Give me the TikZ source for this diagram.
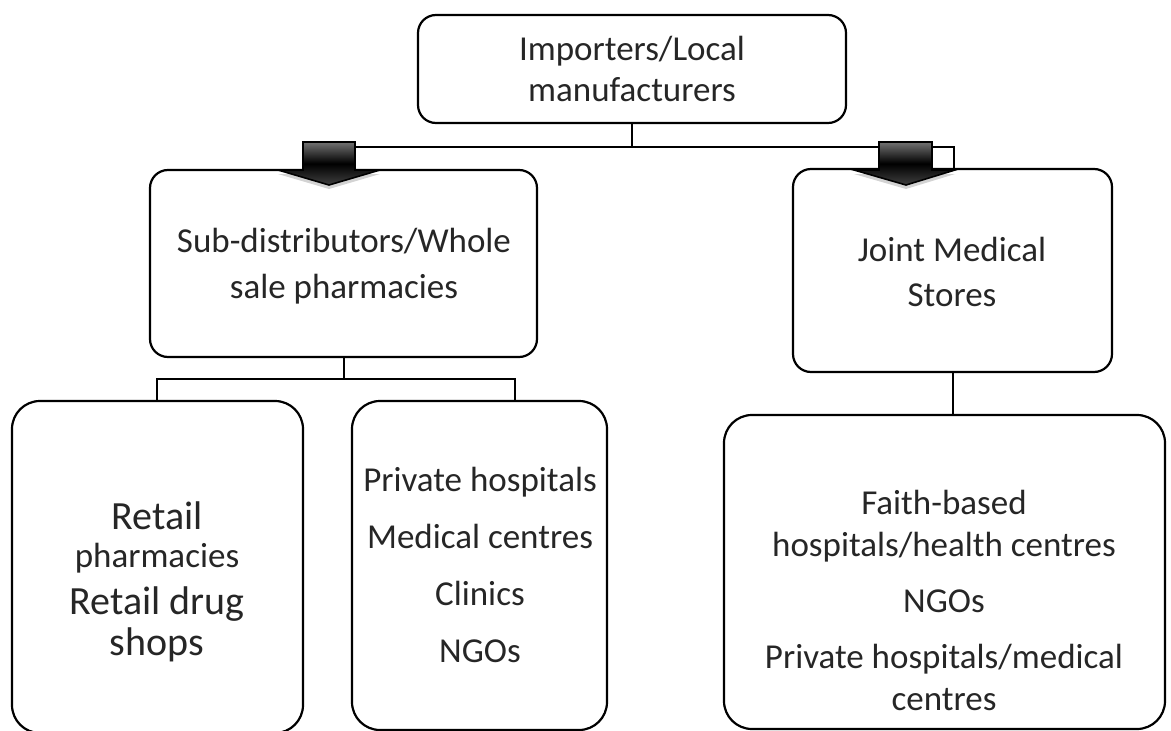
\documentclass[tikz,border=0pt]{standalone}
\usepackage{fontspec}
\setmainfont{Carlito}
\usetikzlibrary{shadows}
\begin{document}
\begin{tikzpicture}[x=1pt,y=-1pt,
  box/.style={draw, line width=2.2pt, rounded corners=18pt, inner sep=0pt},
  bigbox/.style={box, rounded corners=28pt},
  conn/.style={draw, line width=2pt},
  txt/.style={align=center, inner sep=0pt, text=black!85, font=\fontsize{35}{44}\selectfont},
  bigtxt/.style={txt, font=\fontsize{40}{44}\selectfont},
  blockarrow/.style={draw, line width=1.6pt, top color=black!55, bottom color=black!75, middle color=black,
    drop shadow={shadow xshift=0pt, shadow yshift=-4pt, opacity=0.35}}
]
\useasboundingbox (0,0) rectangle (1171,731);

% boxes
\node[box, minimum width=428pt, minimum height=108pt] (top) at (632,69) {};
\node[box, minimum width=387pt, minimum height=187pt] (sub) at (343.5,263.5) {};
\node[box, minimum width=319pt, minimum height=203pt] (jms) at (952.5,270.5) {};
\node[bigbox, minimum width=291pt, minimum height=332pt] (retail) at (157.5,567) {};
\node[bigbox, minimum width=255pt, minimum height=329pt] (priv) at (479.5,565.5) {};
\node[bigbox, minimum width=441pt, minimum height=314pt] (faith) at (944.5,572) {};

% texts
\node[txt, font=\fontsize{35}{41}\selectfont] (toptxt) at (632,69) {Importers/Local\\manufacturers};
\node[txt, font=\fontsize{35}{46}\selectfont] (subtxt) at (344,266) {Sub-distributors/Whole\\sale pharmacies};
\node[txt, font=\fontsize{35}{45}\selectfont] (jmstxt) at (952,272) {Joint Medical\\Stores};
\node[bigtxt] (r1) at (157,516) {Retail};
\node[txt, font=\fontsize{35}{40}\selectfont] (r2) at (157,558) {pharmacies};
\node[bigtxt] (r3) at (157,604) {Retail drug};
\node[bigtxt] (r4) at (157,645) {shops};
\node[txt] (privtxt) at (480,565)
  {Private hospitals\\[13pt]Medical centres\\[13pt]Clinics\\[13pt]NGOs};
\node[txt, font=\fontsize{35}{42}\selectfont] (faithtxt) at (944,600)
  {Faith-based\\hospitals/health centres\\[14pt]NGOs\\[14pt]Private hospitals/medical\\centres};

% connectors
\coordinate (j1) at (top.south |- 0,147);
\coordinate (a1) at (355,147);
\coordinate (a2) at (954,147);
\draw[conn] (top.south) -- (j1);
\draw[conn] (a1) -- (a2) -- (a2 |- jms.north);
\coordinate (s1) at (sub.south |- 0,379);
\coordinate (sl) at (157,379);
\coordinate (sr) at (515,379);
\draw[conn] (sub.south) -- (s1);
\draw[conn] (sl |- retail.north) -- (sl) -- (sr) -- (sr |- priv.north);
\draw[conn] (jms.south -| 953,0) -- (953,0 |- faith.north);

% block arrows
\path[blockarrow] (303,142) -- (355,142) -- (355,170) -- (380,170) -- (329,185) -- (278,170) -- (303,170) -- cycle;
\path[blockarrow] (879,142) -- (932,142) -- (932,170) -- (955,170) -- (906,185) -- (854,170) -- (879,170) -- cycle;
\end{tikzpicture}
\end{document}
